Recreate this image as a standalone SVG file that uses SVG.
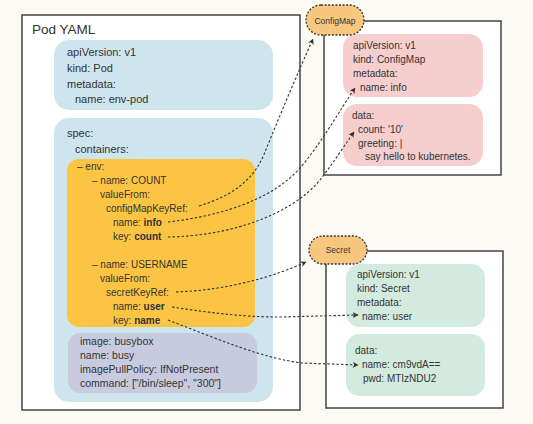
<svg xmlns="http://www.w3.org/2000/svg" width="533" height="424" viewBox="0 0 533 424">
<defs>
<style>
text{font-family:"Liberation Sans",Arial,sans-serif;fill:#333}
.t11{font-size:11px}
.t10{font-size:10px}
.t105{font-size:10.5px}
.b{font-weight:bold}
.frame{fill:#fff;stroke:#444;stroke-width:1.5}
.blue{fill:#cfe5ed}
.org{fill:#fbc543}
.pur{fill:#c8cbdf}
.pink{fill:#f6cecd}
.green{fill:#d3eadf}
.pill{fill:#f8c77f;stroke:#333;stroke-width:1.3;stroke-dasharray:2 1.6}
.conn{fill:none;stroke:#333;stroke-width:1.1;stroke-dasharray:2.5 2}
</style>
<marker id="arr" viewBox="0 0 10 10" refX="9" refY="5" markerWidth="6" markerHeight="6" orient="auto" markerUnits="userSpaceOnUse">
<path d="M0,0 L10,5 L0,10 L3,5 Z" fill="#333"/>
</marker>
</defs>
<rect width="533" height="424" fill="#fbfbf4"/>

<g id="pod">
<rect class="frame" x="22" y="15" width="278" height="395"/>
<text x="32" y="34" style="font-size:13.5px">Pod YAML</text>
<g id="pod-meta">
<rect class="blue" x="54" y="40" width="219" height="70" rx="15"/>
<text class="t11" x="67" y="56">apiVersion: v1</text>
<text class="t11" x="67" y="72">kind: Pod</text>
<text class="t11" x="67" y="88">metadata:</text>
<text class="t11" x="75" y="103">name: env-pod</text>
</g>
<g id="pod-spec">
<rect class="blue" x="54" y="118" width="219" height="284" rx="15"/>
<text class="t11" x="67" y="137">spec:</text>
<text class="t11" x="75" y="153">containers:</text>
</g>
<g id="env">
<rect class="org" x="67" y="159" width="188" height="168" rx="12"/>
<text class="t10" x="77" y="170">– env:</text>
<text class="t10" x="92" y="184">– name: COUNT</text>
<text class="t10" x="100" y="198">valueFrom:</text>
<text class="t10" x="106" y="212">configMapKeyRef:</text>
<text class="t10" x="113" y="226">name: <tspan class="b">info</tspan></text>
<text class="t10" x="113" y="240">key: <tspan class="b">count</tspan></text>
<text class="t10" x="92" y="268">– name: USERNAME</text>
<text class="t10" x="100" y="282">valueFrom:</text>
<text class="t10" x="106" y="296">secretKeyRef:</text>
<text class="t10" x="113" y="310">name: <tspan class="b">user</tspan></text>
<text class="t10" x="113" y="324">key: <tspan class="b">name</tspan></text>
</g>
<g id="image">
<rect class="pur" x="68" y="333" width="189" height="60" rx="12"/>
<text class="t105" x="80" y="345">image: busybox</text>
<text class="t105" x="80" y="359">name: busy</text>
<text class="t105" x="80" y="373">imagePullPolicy: IfNotPresent</text>
<text class="t105" x="80" y="387">command: ["/bin/sleep", "300"]</text>
</g>
</g>

<g id="configmap">
<rect class="frame" x="324" y="21" width="177" height="154"/>
<rect class="pink" x="343" y="34" width="140" height="63" rx="14"/>
<text class="t10" x="353" y="49">apiVersion: v1</text>
<text class="t10" x="353" y="63">kind: ConfigMap</text>
<text class="t10" x="353" y="77">metadata:</text>
<text class="t10" x="360" y="91">name: info</text>
<rect class="pink" x="343" y="104" width="140" height="62" rx="14"/>
<text class="t10" x="352" y="119">data:</text>
<text class="t10" x="358" y="133">count: '10'</text>
<text class="t10" x="358" y="147">greeting: |</text>
<text class="t10" x="365" y="160">say hello to kubernetes.</text>
</g>
<g id="configmap-label">
<rect class="pill" x="306" y="5" width="58" height="30" rx="15"/>
<text x="335" y="24" text-anchor="middle" style="font-size:8.5px">ConfigMap</text>
</g>

<g id="secret">
<rect class="frame" x="326" y="251" width="177" height="157"/>
<rect class="green" x="346" y="264" width="139" height="63" rx="14"/>
<text class="t10" x="357" y="278">apiVersion: v1</text>
<text class="t10" x="357" y="292">kind: Secret</text>
<text class="t10" x="357" y="306">metadata:</text>
<text class="t10" x="362" y="320">name: user</text>
<rect class="green" x="346" y="334" width="139" height="62" rx="14"/>
<text class="t10" x="355" y="354">data:</text>
<text class="t10" x="362" y="368">name: cm9vdA==</text>
<text class="t10" x="363" y="382">pwd: MTIzNDU2</text>
</g>
<g id="secret-label">
<rect class="pill" x="309" y="236" width="58" height="28" rx="14"/>
<text x="338" y="253" text-anchor="middle" style="font-size:8.5px">Secret</text>
</g>

<g id="connectors">
<path class="conn" marker-end="url(#arr)" d="M199,206 C235,195 255,178 265,152 C280,115 298,72 313,39"/>
<path class="conn" marker-end="url(#arr)" d="M168,222 C220,216 272,200 300,168 C320,145 340,110 355,88"/>
<path class="conn" marker-end="url(#arr)" d="M168,237 C232,236 292,214 320,180 C334,162 344,146 354,132"/>
<path class="conn" marker-end="url(#arr)" d="M176,292 C230,290 275,276 306,262"/>
<path class="conn" marker-end="url(#arr)" d="M172,307 C212,313 242,317 282,317 L358,315"/>
<path class="conn" marker-end="url(#arr)" d="M168,320 C220,340 262,358 302,363 L358,365"/>
</g>
</svg>
